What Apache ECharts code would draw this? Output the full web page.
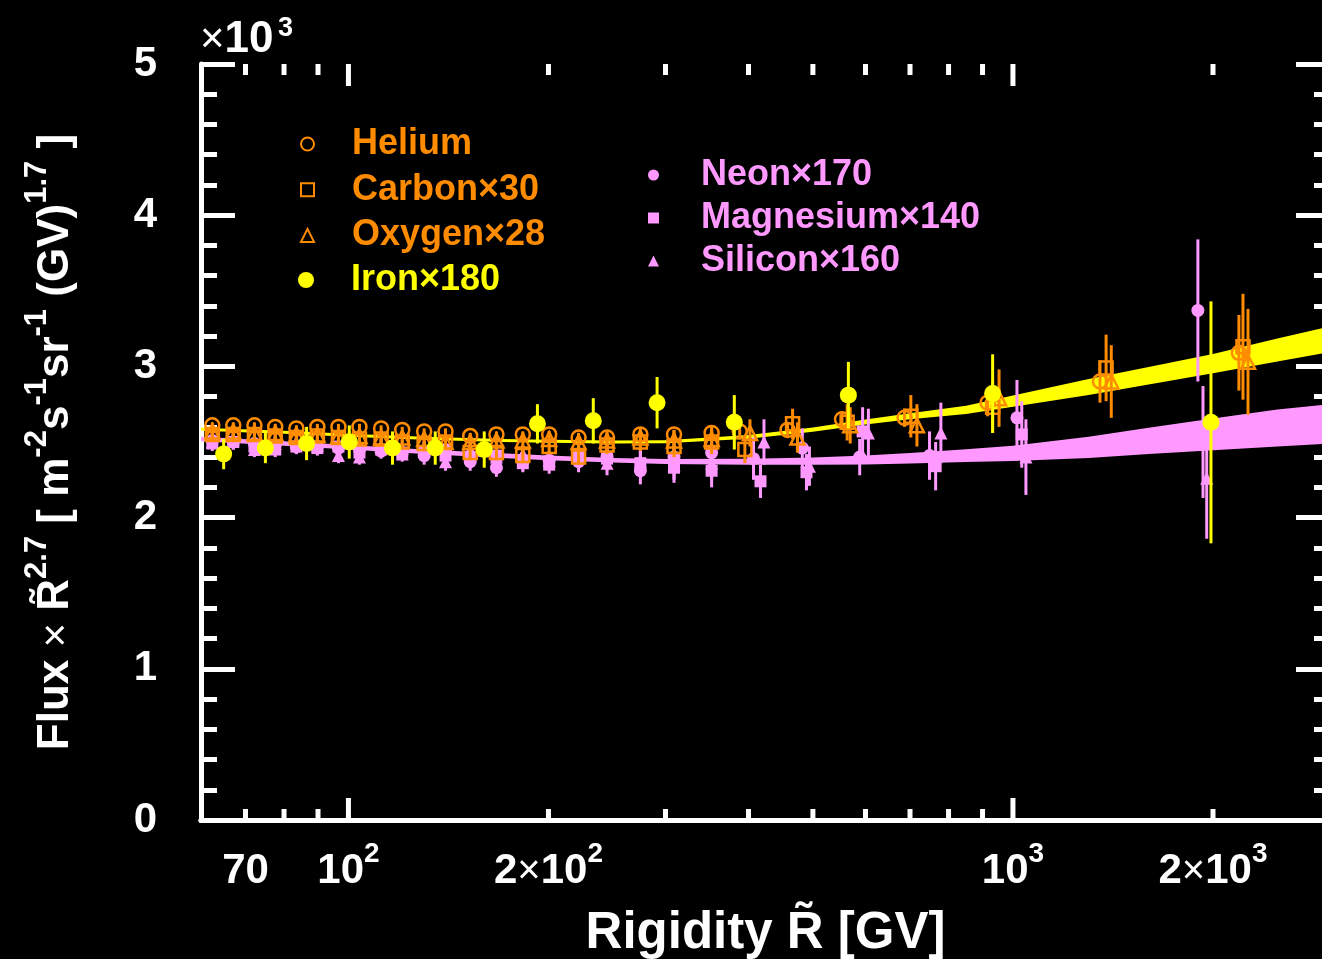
<!DOCTYPE html>
<html><head><meta charset="utf-8">
<script src="https://cdn.jsdelivr.net/npm/echarts@6/dist/echarts.min.js"></script>
<style>html,body{margin:0;padding:0;background:#000;}#c{width:1322px;height:959px;}</style>
</head><body><div id="c"></div>
<script>
const FONT = '"Liberation Sans", Arial, Helvetica, sans-serif';
const ORANGE = '#FF8C00', YELLOW = '#FFFF00', PINK = '#FF99FF', WHITE = '#FFFFFF';

// ---- Helium / Carbon x30 / Oxygen x28 (rigidity GV, flux x R^2.7 in 10^3 units)
const rigHe = [62.4,67.1,72.2,77.6,83.5,89.8,96.6,103.9,112,120.5,130,140,152.5,167,183,200.5,222,245,275,309,352,388,458,553,687,916,1352,2188];
const fluxHe = [2.61,2.61,2.61,2.60,2.59,2.60,2.60,2.60,2.59,2.58,2.57,2.57,2.54,2.55,2.55,2.55,2.53,2.53,2.55,2.55,2.56,2.57,2.58,2.65,2.66,2.76,2.90,3.09];
const errHe = [0.02,0.02,0.02,0.02,0.02,0.02,0.02,0.02,0.02,0.02,0.02,0.02,0.02,0.02,0.02,0.02,0.03,0.03,0.03,0.03,0.03,0.04,0.04,0.05,0.06,0.09,0.14,0.25];

const rigC = [62.4,67.1,72.2,77.6,83.5,89.8,96.6,103.9,112,120.5,130,140,152.5,167,183,200.5,222,245,275,309,352,395,466,563,702,932,1381,2219];
const fluxC = [2.55,2.55,2.55,2.54,2.53,2.54,2.53,2.52,2.52,2.50,2.49,2.50,2.43,2.43,2.41,2.47,2.40,2.48,2.50,2.47,2.50,2.45,2.62,2.63,2.67,2.73,2.99,3.13];
const errC = [0.04,0.04,0.04,0.04,0.04,0.04,0.04,0.04,0.04,0.04,0.04,0.04,0.05,0.05,0.05,0.05,0.05,0.06,0.06,0.07,0.08,0.09,0.10,0.12,0.14,0.17,0.22,0.35];

const rigO = [62.4,67.1,72.2,77.6,83.5,89.8,96.6,103.9,112,120.5,130,140,152.5,167,183,200.5,222,245,275,309,352,402,474,569,717,953,1406,2258];
const fluxO = [2.57,2.57,2.56,2.56,2.55,2.55,2.54,2.54,2.53,2.53,2.52,2.50,2.50,2.51,2.51,2.52,2.50,2.51,2.53,2.51,2.52,2.56,2.53,2.61,2.61,2.79,2.90,3.03];
const errO = [0.04,0.04,0.04,0.04,0.04,0.04,0.04,0.04,0.04,0.04,0.04,0.04,0.05,0.05,0.05,0.05,0.05,0.06,0.06,0.07,0.08,0.09,0.10,0.12,0.14,0.19,0.24,0.35];

// ---- Iron x180
const rigFe = [64.9,75.0,86.5,100.3,116.5,135.1,160.1,192.5,233.6,291.4,380.8,565.4,932,1986];
const fluxFe = [2.42,2.46,2.49,2.50,2.46,2.46,2.45,2.62,2.64,2.76,2.63,2.81,2.82,2.63];
const errFe = [0.10,0.10,0.11,0.11,0.11,0.11,0.12,0.13,0.15,0.17,0.18,0.22,0.26,0.80];

// ---- Neon x170 / Magnesium x140 / Silicon x160
const rigNe = [62.4,67.1,72.2,77.6,83.5,89.8,96.6,103.9,112,120.5,130,140,152.5,167,183,200.5,222,245,275,309,352,407,482,588,749,1014,1898];
const fluxNe = [2.51,2.50,2.49,2.48,2.47,2.47,2.46,2.45,2.44,2.43,2.41,2.45,2.37,2.33,2.37,2.38,2.37,2.40,2.31,2.40,2.43,2.39,2.46,2.40,2.41,2.66,3.37];
const errNe = [0.05,0.05,0.05,0.05,0.05,0.05,0.05,0.05,0.05,0.05,0.06,0.06,0.06,0.06,0.06,0.06,0.07,0.08,0.09,0.10,0.11,0.14,0.13,0.12,0.16,0.25,0.47];

const rigMg = [62.4,67.1,72.2,77.6,83.5,89.8,96.6,103.9,112,120.5,130,140,152.5,167,183,200.5,222,245,275,309,352,417,489,594,765,1031,1932];
const fluxMg = [2.49,2.50,2.47,2.45,2.47,2.46,2.47,2.43,2.45,2.43,2.44,2.41,2.40,2.41,2.36,2.35,2.40,2.39,2.36,2.33,2.31,2.24,2.30,2.57,2.34,2.55,2.50];
const errMg = [0.05,0.05,0.05,0.05,0.05,0.05,0.05,0.05,0.05,0.05,0.06,0.06,0.06,0.06,0.06,0.06,0.07,0.08,0.09,0.10,0.11,0.11,0.12,0.16,0.16,0.22,0.37];

const rigSi = [62.4,67.1,72.2,77.6,83.5,89.8,96.6,103.9,112,120.5,130,140,152.5,167,183,200.5,222,245,275,309,352,422,494,606,779,1046,1957];
const fluxSi = [2.50,2.52,2.45,2.49,2.50,2.48,2.41,2.40,2.47,2.42,2.44,2.37,2.45,2.40,2.42,2.38,2.41,2.36,2.37,2.35,2.36,2.50,2.34,2.56,2.56,2.40,2.26];
const errSi = [0.05,0.05,0.05,0.05,0.05,0.05,0.05,0.05,0.05,0.05,0.06,0.06,0.06,0.06,0.06,0.06,0.07,0.08,0.09,0.10,0.11,0.15,0.13,0.16,0.20,0.25,0.40];

// ---- fit bands (lower / upper edge)
const bandR = [60,80,100,130,170,200,250,300,400,500,600,700,850,1000,1300,1600,2000,2500,3000];
const bandYLo = [2.575,2.555,2.535,2.515,2.500,2.495,2.490,2.492,2.522,2.568,2.615,2.650,2.685,2.733,2.811,2.880,2.954,3.032,3.095];
const bandYHi = [2.595,2.575,2.555,2.535,2.520,2.515,2.510,2.512,2.547,2.596,2.648,2.690,2.740,2.808,2.916,2.996,3.082,3.184,3.265];
const bandPLo = [2.505,2.475,2.450,2.420,2.395,2.380,2.365,2.355,2.350,2.350,2.352,2.358,2.368,2.375,2.395,2.420,2.445,2.470,2.490];
const bandPHi = [2.535,2.505,2.480,2.450,2.425,2.410,2.395,2.388,2.390,2.398,2.410,2.428,2.452,2.475,2.535,2.595,2.655,2.715,2.750];

// ---- axis ticks / labels
const xMajorTicks = [100, 1000];
const xMinorTicks = [70,80,90,200,300,400,500,600,700,800,900,2000];
const xLabelR = [70, 100, 200, 1000, 2000];
const xLabelText = ['{b|70}', '{b|10}{s|2}', '{b|2}{m|×}{b|10}{s|2}', '{b|10}{s|3}', '{b|2}{m|×}{b|10}{s|3}'];

const pairs = (R, v) => R.map((r, i) => [r, v[i]]);

function errSeries(R, v, e, color, z) {
  return {
    type: 'custom', silent: true, clip: true, z: z,
    data: R.map((r, i) => [r, v[i] - e[i], v[i] + e[i]]),
    encode: { x: 0, y: [1, 2] },
    renderItem(params, api) {
      const lo = api.coord([api.value(0), api.value(1)]);
      const hi = api.coord([api.value(0), api.value(2)]);
      return { type: 'line', shape: { x1: lo[0], y1: lo[1], x2: hi[0], y2: hi[1] },
               style: { stroke: color, lineWidth: 3 } };
    }
  };
}
function bandSeries(R, lo, hi, color) {
  return {
    type: 'custom', silent: true, clip: true, z: 1,
    data: R.map((r, i) => [r, lo[i], hi[i]]),
    encode: { x: 0, y: [1, 2] },
    renderItem(params, api) {
      if (params.dataIndex !== 0) return null;
      const pts = [];
      for (let i = 0; i < R.length; i++) pts.push(api.coord([R[i], hi[i]]));
      for (let i = R.length - 1; i >= 0; i--) pts.push(api.coord([R[i], lo[i]]));
      return { type: 'polygon', shape: { points: pts }, style: { fill: color } };
    }
  };
}
function scatter(name, R, v, symbol, size, color, hollow, z) {
  return {
    type: 'scatter', name: name, z: z, symbol: symbol, symbolSize: size,
    data: pairs(R, v),
    itemStyle: hollow ? { color: 'rgba(0,0,0,0)', borderColor: color, borderWidth: 2.5, opacity: 1 }
                      : { color: color, opacity: 1 },
    emphasis: { disabled: true }
  };
}

const tickSeries = {
  type: 'custom', silent: true, clip: false, z: 20,
  data: xMajorTicks.map(r => [r, 1]).concat(xMinorTicks.map(r => [r, 0])),
  encode: { x: 0 },
  renderItem(params, api) {
    const r = api.value(0), major = api.value(1) === 1;
    const len = major ? 22 : 11;
    const b = api.coord([r, 0]), t = api.coord([r, 5]);
    return { type: 'group', children: [
      { type: 'line', shape: { x1: b[0], y1: b[1], x2: b[0], y2: b[1] - len }, style: { stroke: WHITE, lineWidth: 5 } },
      { type: 'line', shape: { x1: t[0], y1: t[1], x2: t[0], y2: t[1] + len }, style: { stroke: WHITE, lineWidth: 5 } }
    ] };
  }
};
const labelSeries = {
  type: 'custom', silent: true, clip: false, z: 20,
  data: xLabelR.map((r, i) => [r, i]),
  encode: { x: 0 },
  renderItem(params, api) {
    const p = api.coord([api.value(0), 0]);
    return { type: 'text', x: p[0], y: p[1] + 46,
      style: { text: xLabelText[params.dataIndex], align: 'center', verticalAlign: 'middle',
        rich: {
          b: { fontSize: 42, fontWeight: 'bold', fontFamily: FONT, fill: WHITE, lineHeight: 52, verticalAlign: 'bottom' },
          m: { fontSize: 40, fontWeight: 'normal', fontFamily: FONT, fill: WHITE, lineHeight: 52, verticalAlign: 'bottom' },
          s: { fontSize: 28, fontWeight: 'bold', fontFamily: FONT, fill: WHITE, lineHeight: 52, verticalAlign: 'top' }
        } } };
  }
};

const yTitle = '{t|Flux }{m|×}{t| R\u0303}{s|2.7}{t| [ m}{s|-2}{t|s}{s|-1}{t|sr}{s|-1}{t| (GV)}{s|1.7}{t| ]}';

const legendText = { fontSize: 36, fontWeight: 'bold', fontFamily: FONT };
const option = {
  backgroundColor: '#000000',
  animation: false,
  grid: { left: 201, right: -8, top: 64, bottom: 139, containLabel: false, outerBoundsMode: 'none' },
  xAxis: [
    { type: 'log', logBase: 10, min: 60, max: 3000, position: 'bottom',
      axisLine: { show: true, lineStyle: { color: WHITE, width: 5 } },
      axisTick: { show: false }, axisLabel: { show: false }, splitLine: { show: false }, minorTick: { show: false },
      name: 'Rigidity R\u0303 [GV]', nameLocation: 'middle', nameGap: 88,
      nameTextStyle: { color: WHITE, fontSize: 51, fontWeight: 'bold', fontFamily: FONT } },
    { type: 'log', logBase: 10, min: 60, max: 3000, position: 'top',
      axisLine: { show: true, lineStyle: { color: WHITE, width: 5 } },
      axisTick: { show: false }, axisLabel: { show: false }, splitLine: { show: false } }
  ],
  yAxis: [
    { type: 'value', min: 0, max: 5, interval: 1, position: 'left',
      axisLine: { show: true, lineStyle: { color: WHITE, width: 5 } },
      axisTick: { show: true, inside: true, length: 34, lineStyle: { color: WHITE, width: 5 } },
      minorTick: { show: true, splitNumber: 5, length: 16, lineStyle: { color: WHITE, width: 5 } },
      axisLabel: { color: WHITE, fontSize: 42, fontWeight: 'bold', fontFamily: FONT, margin: 44 },
      splitLine: { show: false },
      name: yTitle, nameLocation: 'middle', nameRotate: 90, nameGap: 123,
      nameTextStyle: { rich: {
        t: { color: WHITE, fontSize: 44, fontWeight: 'bold', fontFamily: FONT, lineHeight: 56, verticalAlign: 'bottom' },
        m: { color: WHITE, fontSize: 42, fontWeight: 'normal', fontFamily: FONT, lineHeight: 56, verticalAlign: 'bottom' },
        s: { color: WHITE, fontSize: 31, fontWeight: 'bold', fontFamily: FONT, lineHeight: 56, verticalAlign: 'top' }
      } } },
    { type: 'value', min: 0, max: 5, interval: 1, position: 'right',
      axisLine: { show: true, lineStyle: { color: WHITE, width: 5 } },
      axisTick: { show: true, inside: true, length: 34, lineStyle: { color: WHITE, width: 5 } },
      minorTick: { show: true, splitNumber: 5, length: 16, lineStyle: { color: WHITE, width: 5 } },
      axisLabel: { show: false }, splitLine: { show: false } }
  ],
  legend: [
    { orient: 'vertical', left: 300, top: 126, padding: 0, itemWidth: 13, itemHeight: 13, itemGap: 9.7, selectedMode: false,
      textStyle: Object.assign({ padding: [0, 0, 0, 33] }, legendText),
      data: [
        { name: 'Helium', icon: 'circle', itemStyle: { color: 'rgba(0,0,0,0)', borderColor: ORANGE, borderWidth: 2 }, textStyle: { color: ORANGE } },
        { name: 'Carbon×30', icon: 'rect', itemStyle: { color: 'rgba(0,0,0,0)', borderColor: ORANGE, borderWidth: 2 }, textStyle: { color: ORANGE } },
        { name: 'Oxygen×28', icon: 'triangle', itemStyle: { color: 'rgba(0,0,0,0)', borderColor: ORANGE, borderWidth: 2 }, textStyle: { color: ORANGE } }
      ] },
    { orient: 'vertical', left: 298, top: 262, padding: 0, itemWidth: 16, itemHeight: 16, selectedMode: false,
      textStyle: Object.assign({ padding: [0, 0, 0, 32] }, legendText),
      data: [ { name: 'Iron×180', icon: 'circle', itemStyle: { color: YELLOW }, textStyle: { color: YELLOW } } ] },
    { orient: 'vertical', left: 648, top: 157, padding: 0, itemWidth: 11, itemHeight: 11, itemGap: 7, selectedMode: false,
      textStyle: Object.assign({ padding: [0, 0, 0, 37] }, legendText),
      data: [
        { name: 'Neon×170', icon: 'circle', itemStyle: { color: PINK }, textStyle: { color: PINK } },
        { name: 'Magnesium×140', icon: 'rect', itemStyle: { color: PINK }, textStyle: { color: PINK } },
        { name: 'Silicon×160', icon: 'triangle', itemStyle: { color: PINK }, textStyle: { color: PINK } }
      ] }
  ],
  graphic: [
    { type: 'text', x: 200, y: 40, silent: true,
      style: { text: '{m|×}{b|10}', align: 'left', verticalAlign: 'middle',
        rich: { m: { fontSize: 42, fontWeight: 'normal', fontFamily: FONT, fill: WHITE },
                b: { fontSize: 44, fontWeight: 'bold', fontFamily: FONT, fill: WHITE } } } },
    { type: 'text', x: 278, y: 29, silent: true,
      style: { text: '3', fill: WHITE, font: 'bold 27px ' + FONT, align: 'left', verticalAlign: 'middle' } }
  ],
  series: [
    bandSeries(bandR, bandYLo, bandYHi, YELLOW),
    bandSeries(bandR, bandPLo, bandPHi, PINK),
    errSeries(rigNe, fluxNe, errNe, PINK, 2),
    errSeries(rigMg, fluxMg, errMg, PINK, 2),
    errSeries(rigSi, fluxSi, errSi, PINK, 2),
    scatter('Neon×170', rigNe, fluxNe, 'circle', 13, PINK, false, 3),
    scatter('Magnesium×140', rigMg, fluxMg, 'rect', 12, PINK, false, 3),
    scatter('Silicon×160', rigSi, fluxSi, 'triangle', 13, PINK, false, 3),
    errSeries(rigHe, fluxHe, errHe, ORANGE, 4),
    errSeries(rigC, fluxC, errC, ORANGE, 4),
    errSeries(rigO, fluxO, errO, ORANGE, 4),
    scatter('Helium', rigHe, fluxHe, 'circle', 14, ORANGE, true, 5),
    scatter('Carbon×30', rigC, fluxC, 'rect', 13, ORANGE, true, 5),
    scatter('Oxygen×28', rigO, fluxO, 'triangle', 14, ORANGE, true, 5),
    errSeries(rigFe, fluxFe, errFe, YELLOW, 6),
    scatter('Iron×180', rigFe, fluxFe, 'circle', 17, YELLOW, false, 7),
    tickSeries,
    labelSeries
  ]
};
const chart = echarts.init(document.getElementById('c'));
chart.setOption(option);
</script>
</body></html>
